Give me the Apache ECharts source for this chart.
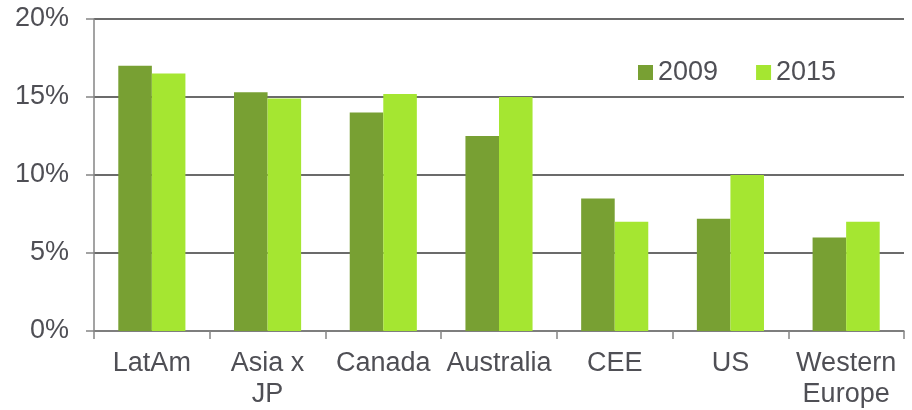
<!DOCTYPE html>
<html>
<head>
<meta charset="utf-8">
<script src="https://cdn.jsdelivr.net/npm/echarts@6/dist/echarts.min.js"></script>
<style>
html,body{margin:0;padding:0;background:#fff;}
#chart{width:912px;height:410px;}
</style>
</head>
<body>
<div id="chart"></div>
<script>
const categories = ['LatAm', 'Asia x\nJP', 'Canada', 'Australia', 'CEE', 'US', 'Western\nEurope'];
const seriesNames = ['2009', '2015'];
const values2009 = [17.0, 15.3, 14.0, 12.5, 8.5, 7.2, 6.0];
const values2015 = [16.5, 14.9, 15.2, 15.0, 7.0, 10.0, 7.0];
const yTicks = [0, 5, 10, 15, 20];

const FONT = 'Liberation Sans, Arial, Helvetica, sans-serif';
const TXT = '#4f4f55';

const chart = echarts.init(document.getElementById('chart'), null, {renderer: 'canvas'});
chart.setOption({
  animation: false,
  backgroundColor: '#ffffff',
  grid: {left: 94, right: 8, top: 19, bottom: 79, containLabel: false},
  legend: {
    data: seriesNames,
    left: 638, top: 59, padding: 0,
    itemWidth: 15, itemHeight: 15, itemGap: 38,
    icon: 'rect',
    textStyle: {fontFamily: FONT, fontSize: 27, color: TXT}
  },
  xAxis: {
    type: 'category',
    data: categories,
    boundaryGap: true,
    axisLine: {show: true, lineStyle: {color: '#858585', width: 1.5}},
    axisTick: {show: true, alignWithLabel: false, length: 8, lineStyle: {color: '#858585', width: 1.5}},
    axisLabel: {fontFamily: FONT, fontSize: 27, color: TXT, lineHeight: 31, margin: 17, interval: 0}
  },
  yAxis: {
    type: 'value',
    min: yTicks[0], max: yTicks[yTicks.length - 1], interval: 5,
    axisLine: {show: true, lineStyle: {color: '#858585', width: 1.5}},
    axisTick: {show: true, length: 8, lineStyle: {color: '#858585', width: 1.5}},
    splitLine: {show: true, lineStyle: {color: '#3a3a3a', width: 1.5}},
    axisLabel: {fontFamily: FONT, fontSize: 27, color: TXT, margin: 25, formatter: '{value}%'}
  },
  series: [
    {name: seriesNames[0], type: 'bar', data: values2009, barGap: '0%', barCategoryGap: '42%',
     itemStyle: {color: '#78a033'}},
    {name: seriesNames[1], type: 'bar', data: values2015, barGap: '0%', barCategoryGap: '42%',
     itemStyle: {color: '#a5e631'}}
  ]
});
</script>
</body>
</html>
